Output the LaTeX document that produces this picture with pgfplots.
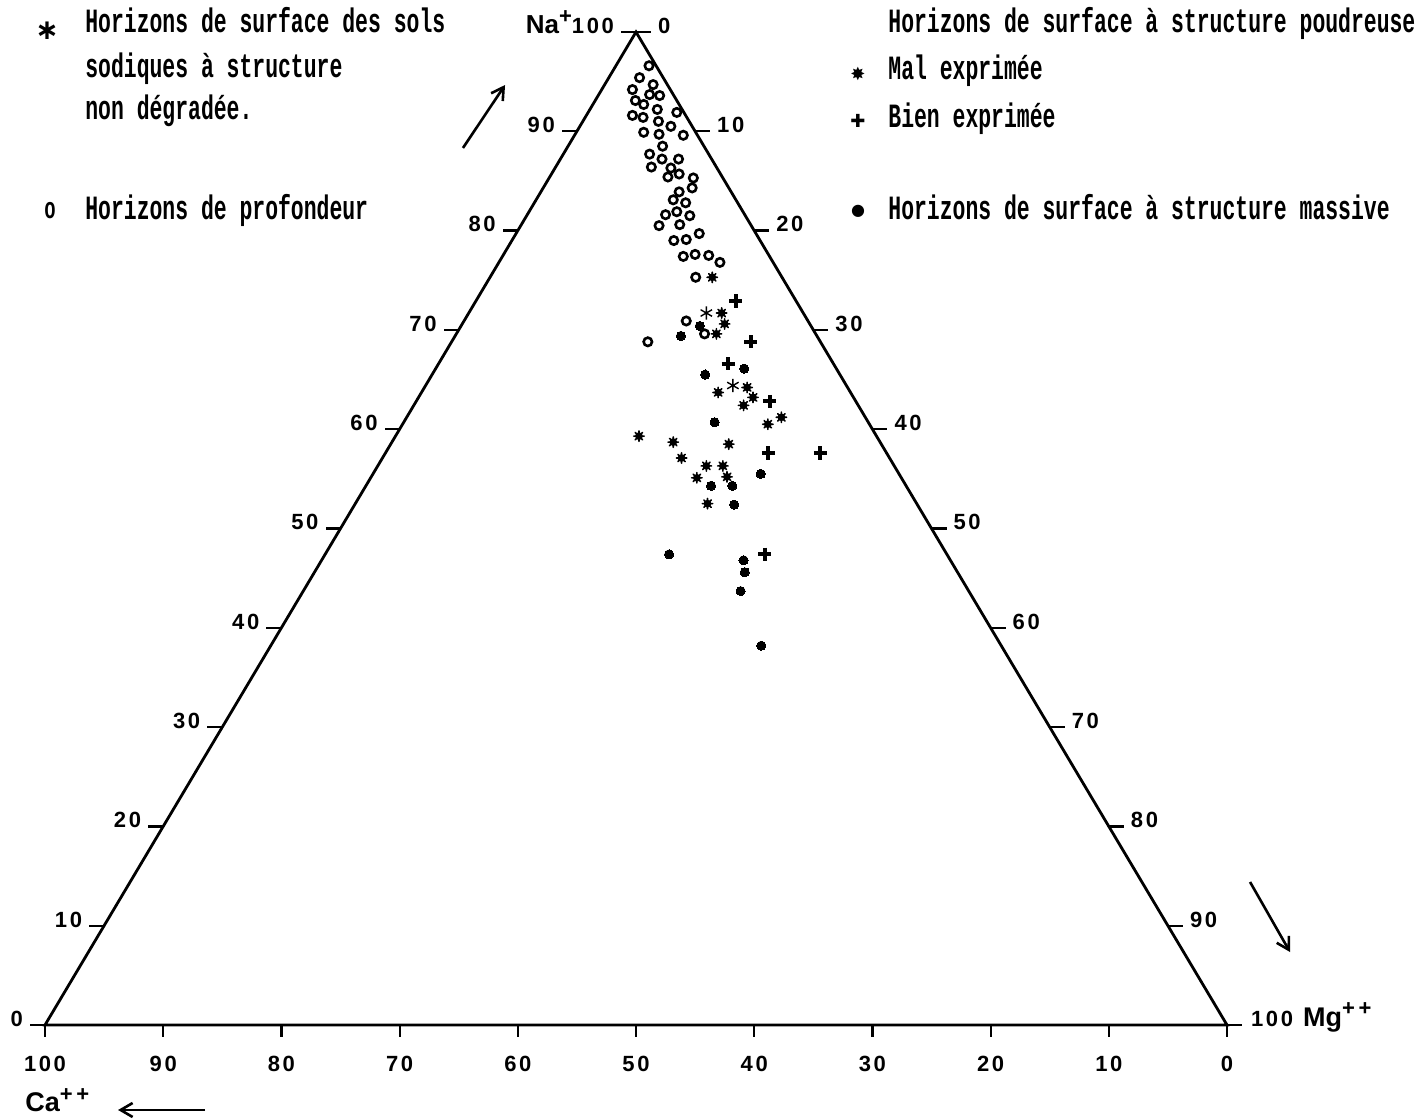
\documentclass[border=0pt]{standalone}
\usepackage{fontspec}
\setmainfont[FakeStretch=0.63]{Liberation Mono}
\newfontfamily\symfont{DejaVu Sans}
\newfontfamily\numfont[LetterSpace=12]{Liberation Sans}
\newfontfamily\labfont{Liberation Sans}
\usepackage{pgfplots}
\usepackage{pgfplotstable}
\pgfplotsset{compat=1.18}
\usetikzlibrary{arrows.meta}

% filled dot with eight short spikes ("mal exprimee")
\pgfdeclareplotmark{mal}{%
  \pgfpathcircle{\pgfpointorigin}{0.75\pgfplotmarksize}%
  \pgfusepathqfill
  \pgfsetroundcap
  \pgfpathmoveto{\pgfpoint{-\pgfplotmarksize}{0pt}}\pgfpathlineto{\pgfpoint{\pgfplotmarksize}{0pt}}%
  \pgfpathmoveto{\pgfpoint{0pt}{-\pgfplotmarksize}}\pgfpathlineto{\pgfpoint{0pt}{\pgfplotmarksize}}%
  \pgfpathmoveto{\pgfpoint{-0.707\pgfplotmarksize}{-0.707\pgfplotmarksize}}\pgfpathlineto{\pgfpoint{0.707\pgfplotmarksize}{0.707\pgfplotmarksize}}%
  \pgfpathmoveto{\pgfpoint{-0.707\pgfplotmarksize}{0.707\pgfplotmarksize}}\pgfpathlineto{\pgfpoint{0.707\pgfplotmarksize}{-0.707\pgfplotmarksize}}%
  \pgfusepathqstroke
}

% Na+ and Mg++ in percent (Ca++ = 100 - Na - Mg)
\pgfplotstableread{
Na   Mg
96.6 2.8
95.4 2.6
94.7 4.1
94.2 2.6
93.7 4.3
93.6 5.2
93.1 3.4
92.7 4.3
92.2 5.7
91.9 7.5
91.6 3.9
91.4 4.9
91.0 6.4
90.5 7.7
89.9 5.7
89.7 7.1
89.6 9.2
88.5 8.0
87.7 7.3
87.2 8.6
87.2 10.0
86.4 8.1
86.3 9.8
85.7 10.8
85.4 10.0
85.3 12.2
84.3 12.6
83.9 11.7
83.1 11.6
82.8 12.8
81.9 12.5
81.6 11.7
81.5 13.8
80.5 11.7
80.6 13.4
79.0 13.7
79.1 14.7
79.7 15.5
77.4 15.3
77.6 16.2
77.5 17.4
76.8 18.7
75.3 17.4
70.9 18.8
69.6 21.0
68.8 16.6
}\profondeur

\pgfplotstableread{
Na   Mg
71.7 20.1
64.4 26.0
}\nondegradee

\pgfplotstableread{
Na   Mg
75.3 18.8
71.7 21.4
70.6 22.2
69.6 22.0
63.7 25.1
64.2 27.3
63.2 28.3
62.4 27.9
61.2 31.7
60.5 30.9
59.3 20.6
58.7 23.8
58.5 28.6
57.1 25.3
56.3 27.8
56.3 29.2
55.2 30.1
55.1 27.6
52.5 29.8
}\malexprimee

\pgfplotstableread{
Na   Mg
72.9 22.0
68.8 25.3
66.6 24.5
62.8 29.9
57.6 32.4
57.6 36.8
47.4 37.2
}\bienexprimee

\pgfplotstableread{
Na   Mg
70.4 20.2
69.4 19.1
66.1 26.1
65.5 23.1
60.7 26.3
55.5 32.8
54.3 29.2
54.3 31.0
52.4 32.1
47.4 29.1
46.8 35.7
45.6 36.4
43.7 37.0
38.2 41.5
}\massive

\tikzset{
  ticklab/.style={font=\numfont\bfseries\fontsize{11}{12}\selectfont, inner sep=0pt},
  leg/.style={font=\bfseries\fontsize{17}{20}\selectfont, inner sep=0pt, anchor=base west},
  ion/.style={font=\labfont\bfseries\fontsize{13.5}{15}\selectfont},
}

\begin{document}
\begin{tikzpicture}
\begin{axis}[
    width=709pt, height=559.5pt, scale only axis,
    xmin=-3.807, xmax=116.159, ymin=-9.466, ymax=103.223,
    hide axis, clip=false,
    ternpt/.style={only marks},
]
\coordinate (bbsw) at (rel axis cs:0,0);
\coordinate (bbne) at (rel axis cs:1,1);

% triangle
\draw[line width=1.4pt, line join=miter] (axis cs:0,0) -- (axis cs:100,0) -- (axis cs:50,100) -- cycle;

% Na+ scale (left side)
\pgfplotsinvokeforeach{0,10,...,90}{
  \draw[line width=1.1pt] (axis cs:{0.5*#1},#1) -- ++(-7.5pt,0pt)
    node[ticklab, anchor=base east, xshift=-3pt, yshift=-0.7pt] {#1};
}
\draw[line width=1.1pt] (axis cs:50,100) -- ++(-7.5pt,0pt)
  node[ticklab, anchor=base east, xshift=-3pt, yshift=-0.7pt]
  {{\labfont\bfseries\fontsize{13}{15}\selectfont Na\raisebox{0.75ex}{\fontsize{11}{12}\selectfont+}}100};

% Mg++ scale (right side)
\pgfplotsinvokeforeach{0,10,...,90}{
  \draw[line width=1.1pt] (axis cs:{50+0.5*#1},{100-#1}) -- ++(7.5pt,0pt)
    node[ticklab, anchor=base west, xshift=3pt, yshift=-0.7pt] {#1};
}
\draw[line width=1.1pt] (axis cs:100,0) -- ++(7.5pt,0pt)
  node[ticklab, anchor=base west, xshift=4pt, yshift=-0.7pt]
  {100\hspace{5pt}{\labfont\bfseries\fontsize{13.5}{15}\selectfont Mg\raisebox{0.75ex}{\fontsize{11}{12}\selectfont+\,+}}};

% Ca++ scale (base)
\pgfplotsinvokeforeach{0,10,...,100}{
  \draw[line width=1.1pt] (axis cs:{100-#1},0) -- ++(0pt,-6pt)
    node[ticklab, anchor=north, yshift=-9pt] {#1};
}

% data
\addplot[ternpt, mark=o, mark size=2.1pt, line width=1.3pt]
  table[x expr=\thisrow{Mg}+0.5*\thisrow{Na}, y=Na] {\profondeur};
\addplot[ternpt, mark=asterisk, mark size=3.3pt, line width=0.7pt]
  table[x expr=\thisrow{Mg}+0.5*\thisrow{Na}, y=Na] {\nondegradee};
\addplot[ternpt, mark=mal, mark size=2.6pt, line width=0.8pt]
  table[x expr=\thisrow{Mg}+0.5*\thisrow{Na}, y=Na] {\malexprimee};
\addplot[ternpt, mark=+, mark size=3.3pt, line width=2pt]
  table[x expr=\thisrow{Mg}+0.5*\thisrow{Na}, y=Na] {\bienexprimee};
\addplot[ternpt, mark=*, mark size=2.3pt, line width=0pt]
  table[x expr=\thisrow{Mg}+0.5*\thisrow{Na}, y=Na] {\massive};

% arrows
\draw[line width=1.3pt, -{Straight Barb[length=6pt, width=7pt]}] (axis cs:35.36,88.32) -- (axis cs:38.92,94.66);
\draw[line width=1.3pt, -{Straight Barb[length=6pt, width=7pt]}] (axis cs:101.95,14.40) -- (axis cs:105.33,7.35);
\draw[line width=1.3pt, -{Straight Barb[length=6pt, width=7pt]}] (axis cs:13.54,-8.56) -- (axis cs:6.18,-8.56);
\node[ion, anchor=base west, inner sep=0pt]
  at (axis cs:-1.69,-8.76) {Ca\raisebox{0.75ex}{\fontsize{11}{12}\selectfont+\,+}};

% legend, left
\node[font=\symfont\bfseries\fontsize{14}{14}\selectfont, inner sep=0pt] at (axis cs:0.17,100.1) {∗};
\node[leg] at (axis cs:3.38,99.90) {Horizons de surface des sols};
\node[leg] at (axis cs:3.38,95.37) {sodiques à structure};
\node[leg] at (axis cs:3.38,91.14) {non dégradée.};
\node[font=\bfseries\fontsize{15}{15}\selectfont, inner sep=0pt] at (axis cs:0.42,81.97) {o};
\node[leg] at (axis cs:3.38,81.07) {Horizons de profondeur};

% legend, right
\node[leg] at (axis cs:71.32,99.90) {Horizons de surface à structure poudreuse};
\node[font=\symfont\fontsize{9}{9}\selectfont, inner sep=0pt] at (axis cs:68.78,95.77) {✸};
\node[leg] at (axis cs:71.32,95.17) {Mal exprimée};
\node[font=\symfont\fontsize{9}{9}\selectfont, inner sep=0pt] at (axis cs:68.78,91.04) {✚};
\node[leg] at (axis cs:71.32,90.43) {Bien exprimée};
\node[font=\symfont\fontsize{8}{8}\selectfont, inner sep=0pt] at (axis cs:68.78,81.97) {●};
\node[leg] at (axis cs:71.32,81.07) {Horizons de surface à structure massive};
\end{axis}
\pgfresetboundingbox
\path[use as bounding box] (bbsw) rectangle (bbne);
\end{tikzpicture}
\end{document}
